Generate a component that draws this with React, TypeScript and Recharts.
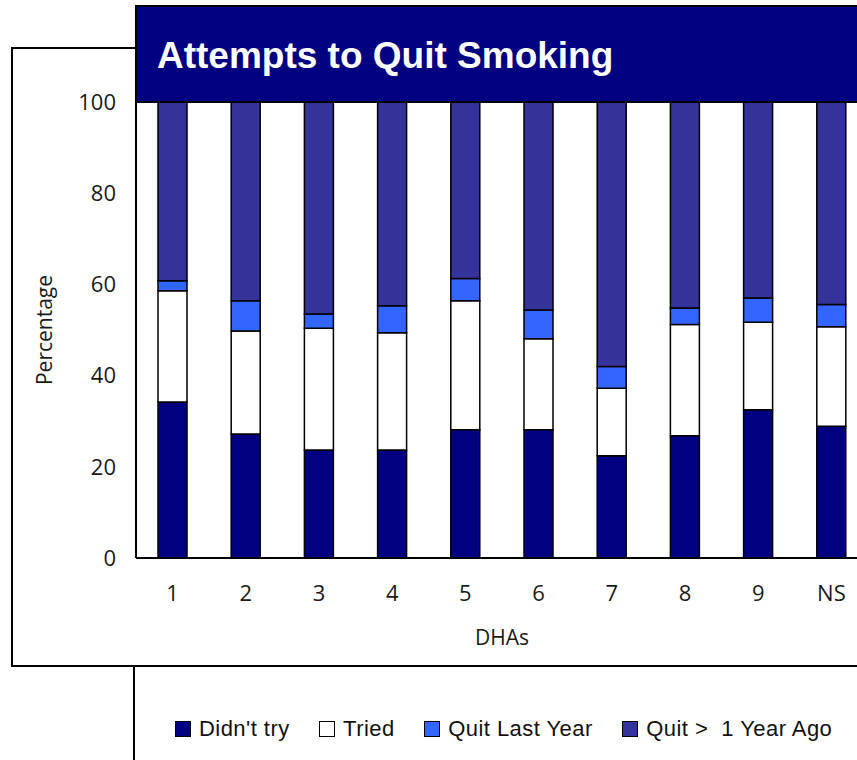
import React from 'react';
import { BarChart, Bar, XAxis, YAxis, Label } from 'recharts';

const categories = ['1', '2', '3', '4', '5', '6', '7', '8', '9', 'NS'];
const didntTry = [34.2, 27.2, 23.7, 23.7, 28.1, 28.1, 22.4, 26.8, 32.5, 28.9];
const tried = [24.4, 22.6, 26.7, 25.7, 28.3, 20.0, 14.8, 24.4, 19.2, 21.8];
const quitLastYear = [2.2, 6.6, 3.1, 5.9, 4.9, 6.3, 4.8, 3.6, 5.3, 4.9];
const quitOverYear = [39.2, 43.6, 46.5, 44.7, 38.7, 45.6, 58.0, 45.2, 43.0, 44.4];
const yTicks = [0, 20, 40, 60, 80, 100];

const seriesNames = ["Didn't try", 'Tried', 'Quit Last Year', 'Quit >  1 Year Ago'];
const seriesKeys = ['didntTry', 'tried', 'quitLastYear', 'quitOverYear'];
const seriesColors = ['#000080', '#FFFFFF', '#3366FF', '#333399'];

const data = categories.map((c, i) => ({
  dha: c,
  didntTry: didntTry[i],
  tried: tried[i],
  quitLastYear: quitLastYear[i],
  quitOverYear: quitOverYear[i],
}));

const tickFont = { fontFamily: '"Open Sans", sans-serif', fontSize: 22, fill: '#1a1a1a' };

export default function App() {
  return (
    <div
      style={{
        position: 'absolute',
        left: 0,
        top: 0,
        width: 857,
        height: 760,
        overflow: 'hidden',
        background: '#fff',
      }}
    >
      {/* outer frame */}
      <div
        style={{
          position: 'absolute',
          left: 11,
          top: 47,
          width: 950,
          height: 620,
          border: '2px solid #000',
          boxSizing: 'border-box',
        }}
      />
      {/* legend frame */}
      <div
        style={{
          position: 'absolute',
          left: 133,
          top: 665,
          width: 950,
          height: 200,
          border: '2px solid #000',
          boxSizing: 'border-box',
        }}
      />
      <div style={{ position: 'absolute', left: 0, top: 0 }}>
        <BarChart
          width={880}
          height={760}
          data={data}
          margin={{ top: 102, right: 12, bottom: 112, left: 12 }}
          barCategoryGap={0}
        >
          <XAxis
            dataKey="dha"
            height={90}
            tickLine={false}
            tickSize={0}
            tickMargin={27}
            axisLine={{ stroke: '#000', strokeWidth: 2 }}
            tick={tickFont}
            interval={0}
          >
            <Label
              value="DHAs"
              position="insideBottom"
              offset={3}
              style={{ fontFamily: '"Open Sans", sans-serif', fontSize: 21, fill: '#1a1a1a' }}
            />
          </XAxis>
          <YAxis
            width={124}
            domain={[0, 100]}
            ticks={yTicks}
            tickLine={false}
            tickSize={0}
            tickMargin={20}
            axisLine={{ stroke: '#000', strokeWidth: 2 }}
            tick={tickFont}
          >
            <Label
              value="Percentage"
              angle={-90}
              position="center"
              dx={-29}
              style={{ fontFamily: '"Open Sans", sans-serif', fontSize: 21, fill: '#1a1a1a' }}
            />
          </YAxis>
          {seriesKeys.map((k, i) => (
            <Bar
              key={k}
              dataKey={k}
              name={seriesNames[i]}
              stackId="a"
              fill={seriesColors[i]}
              stroke="#000"
              strokeWidth={1.5}
              barSize={29}
              isAnimationActive={false}
            />
          ))}
        </BarChart>
      </div>
      {/* title banner */}
      <div
        style={{
          position: 'absolute',
          left: 135,
          top: 5,
          width: 950,
          height: 98,
          background: '#000080',
          border: '2px solid #000',
          boxSizing: 'border-box',
        }}
      />
      <div
        style={{
          position: 'absolute',
          left: 157,
          top: 38,
          fontFamily: '"Liberation Sans", Arial, sans-serif',
          fontWeight: 'bold',
          fontSize: 37,
          lineHeight: '36px',
          color: '#fff',
          whiteSpace: 'nowrap',
        }}
      >
        Attempts to Quit Smoking
      </div>
      {/* legend */}
      <div
        style={{
          position: 'absolute',
          left: 175,
          top: 718,
          display: 'flex',
          alignItems: 'center',
          fontFamily: '"Liberation Sans", Arial, sans-serif',
          fontSize: 22,
          lineHeight: '22px',
          color: '#111',
          whiteSpace: 'pre',
        }}
      >
        {seriesNames.map((n, i) => (
          <div key={n} style={{ display: 'flex', alignItems: 'center', marginRight: 29.5 }}>
            <div
              style={{
                width: 16,
                height: 16,
                background: seriesColors[i],
                border: '1.5px solid #000',
                boxSizing: 'border-box',
                marginRight: 8,
              }}
            />
            <span style={{ letterSpacing: 0.45 }}>{n}</span>
          </div>
        ))}
      </div>
    </div>
  );
}
